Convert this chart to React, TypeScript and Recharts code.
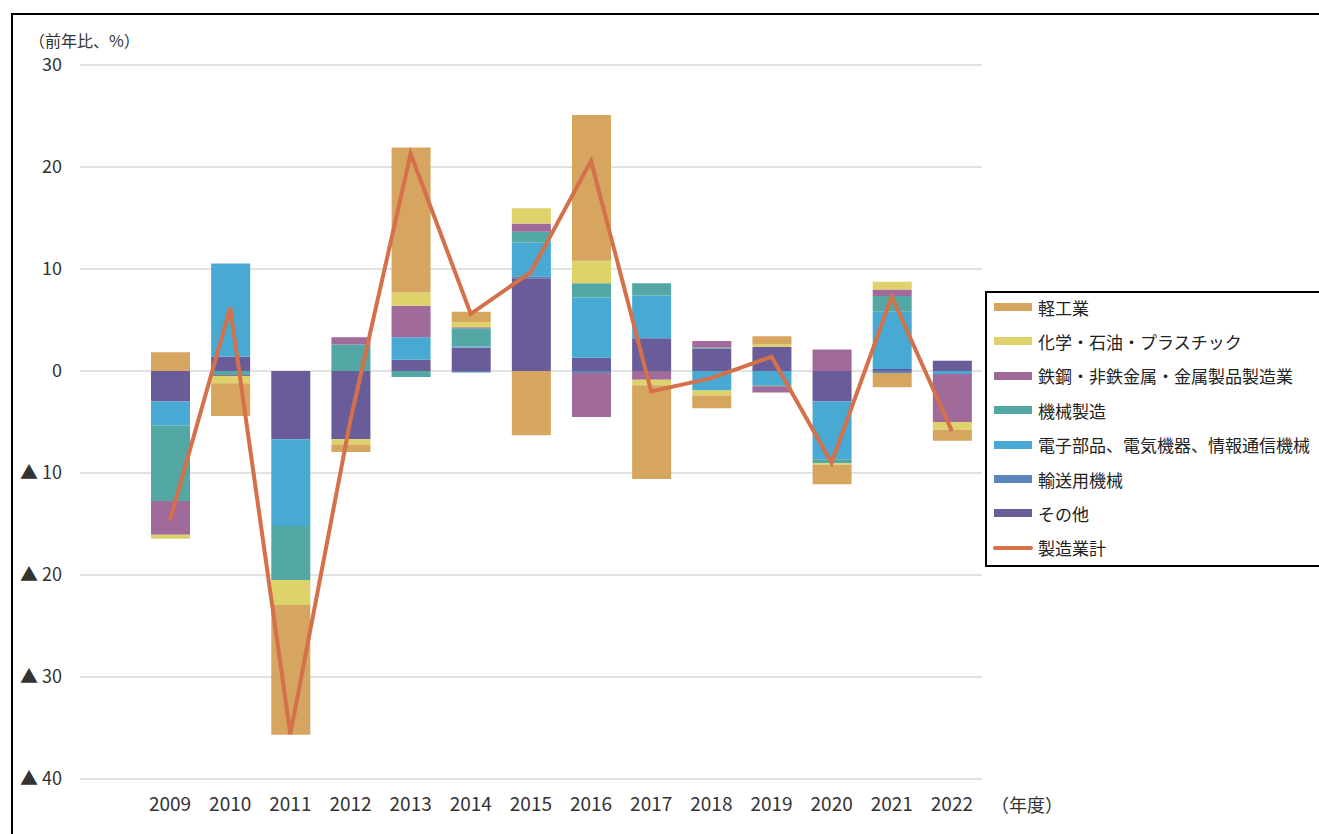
import { Bar, CartesianGrid, ComposedChart, Line, XAxis, YAxis } from "recharts";

const years = ["2009", "2010", "2011", "2012", "2013", "2014", "2015", "2016", "2017", "2018", "2019", "2020", "2021", "2022"];

// 寄与度（前年比、%）
const light = [1.85, -3.2, -12.7, -0.75, 14.2, 1.0, -6.3, 14.3, -9.2, -1.25, 0.8, -1.9, -1.4, -1.1];
const chem = [-0.4, -0.7, -2.45, -0.5, 1.3, 0.5, 1.5, 2.2, -0.55, -0.5, 0.25, -0.15, 0.75, -0.75];
const steel = [-3.3, -0.1, 0, 0.7, 3.1, 0.1, 0.8, -4.3, -0.85, 0.65, -0.6, 2.1, 0.65, -4.7];
const machine = [-7.4, -0.4, -5.3, 2.6, -0.6, 1.8, 1.05, 1.4, 1.2, 0.1, -0.1, -0.4, 1.55, 0];
const elec = [-2.35, 9.15, -8.5, 0, 2.2, 0.1, 3.3, 5.9, 4.2, -1.9, -1.4, -5.65, 5.6, -0.3];
const transport = [0, 0, 0, 0, 0, -0.15, 0.2, -0.2, 0, 0, 0, 0, -0.2, 0];
const other = [-3.0, 1.4, -6.7, -6.7, 1.1, 2.3, 9.1, 1.3, 3.2, 2.2, 2.35, -3.0, 0.2, 1.0];
const total = [-14.6, 6.2, -35.6, -4.8, 21.3, 5.6, 9.7, 20.6, -2.0, -0.7, 1.4, -9.0, 7.3, -5.9];

const yTicks = [-40, -30, -20, -10, 0, 10, 20, 30];

// stacking order: first is closest to zero
const series = [
  { key: "other", name: "その他", color: "#6A5C98", values: other },
  { key: "transport", name: "輸送用機械", color: "#5B86BC", values: transport },
  { key: "elec", name: "電子部品、電気機器、情報通信機械", color: "#48A9D2", values: elec },
  { key: "machine", name: "機械製造", color: "#53A7A4", values: machine },
  { key: "steel", name: "鉄鋼・非鉄金属・金属製品製造業", color: "#A06A9A", values: steel },
  { key: "chem", name: "化学・石油・プラスチック", color: "#DDD36A", values: chem },
  { key: "light", name: "軽工業", color: "#D6A55F", values: light },
];
const lineColor = "#D4704A";

const data = years.map((y, i) => {
  const row: Record<string, number | string> = { year: y, total: total[i] };
  series.forEach((s) => (row[s.key] = s.values[i]));
  return row;
});

const font = "'Noto Sans CJK JP', 'Noto Sans', sans-serif";
const fmtY = (v: number) => (v < 0 ? `▲ ${-v}` : `${v}`);

function LegendBox() {
  const items = [...series].reverse();
  const rowTop = (i: number) => -3 + i * 34.4;
  return (
    <div
      style={{
        position: "absolute",
        left: 985,
        top: 291,
        width: 340,
        height: 276,
        border: "2px solid #000",
        boxSizing: "border-box",
        background: "#fff",
      }}
    >
      {items.map((s, i) => (
        <div
          key={s.key}
          style={{ position: "absolute", left: 0, top: rowTop(i), display: "flex", alignItems: "center", height: 34 }}
        >
          <div style={{ width: 38, height: 8, background: s.color, marginLeft: 7, marginRight: 6 }} />
          <span style={{ fontSize: 17, color: "#222", whiteSpace: "nowrap" }}>{s.name}</span>
        </div>
      ))}
      <div
        style={{ position: "absolute", left: 0, top: rowTop(7), display: "flex", alignItems: "center", height: 34 }}
      >
        <div style={{ width: 40, height: 4, background: lineColor, borderRadius: 2, marginLeft: 6, marginRight: 5 }} />
        <span style={{ fontSize: 17, color: "#222" }}>製造業計</span>
      </div>
    </div>
  );
}

export default function App() {
  return (
    <div
      style={{
        position: "absolute",
        left: 0,
        top: 0,
        width: 1319,
        height: 834,
        overflow: "hidden",
        background: "#fff",
        fontFamily: font,
      }}
    >
      <div
        style={{
          position: "absolute",
          left: 11,
          top: 13,
          width: 1400,
          height: 900,
          border: "2px solid #000",
        }}
      />
      <ComposedChart
        width={1319}
        height={834}
        data={data}
        stackOffset="sign"
        margin={{ top: 65, right: 337, bottom: 15, left: 0 }}
        style={{ position: "absolute", left: 0, top: 0 }}
      >
        <CartesianGrid vertical={false} stroke="#d9d9d9" strokeWidth={1.5} />
        <XAxis
          dataKey="year"
          padding={{ left: 60, right: 0 }}
          axisLine={false}
          tickLine={false}
          tickMargin={13}
          height={40}
          interval={0}
          tick={{ fill: "#333", fontSize: 19, fontFamily: font }}
        />
        <YAxis
          width={80}
          domain={[-40, 30]}
          ticks={yTicks}
          interval={0}
          axisLine={false}
          tickLine={false}
          tickMargin={12}
          tickFormatter={fmtY}
          tick={{ fill: "#333", fontSize: 18, fontFamily: font }}
        />
        {series.map((s) => (
          <Bar key={s.key} dataKey={s.key} name={s.name} stackId="a" fill={s.color} barSize={39} isAnimationActive={false} />
        ))}
        <Line
          type="linear"
          dataKey="total"
          name="製造業計"
          stroke={lineColor}
          strokeWidth={4}
          dot={false}
          activeDot={false}
          isAnimationActive={false}
        />
      </ComposedChart>
      <div style={{ position: "absolute", left: 29, top: 28, fontSize: 16, color: "#333" }}>（前年比、%）</div>
      <div style={{ position: "absolute", left: 991, top: 791, fontSize: 18, color: "#333" }}>（年度）</div>
      <LegendBox />
    </div>
  );
}
